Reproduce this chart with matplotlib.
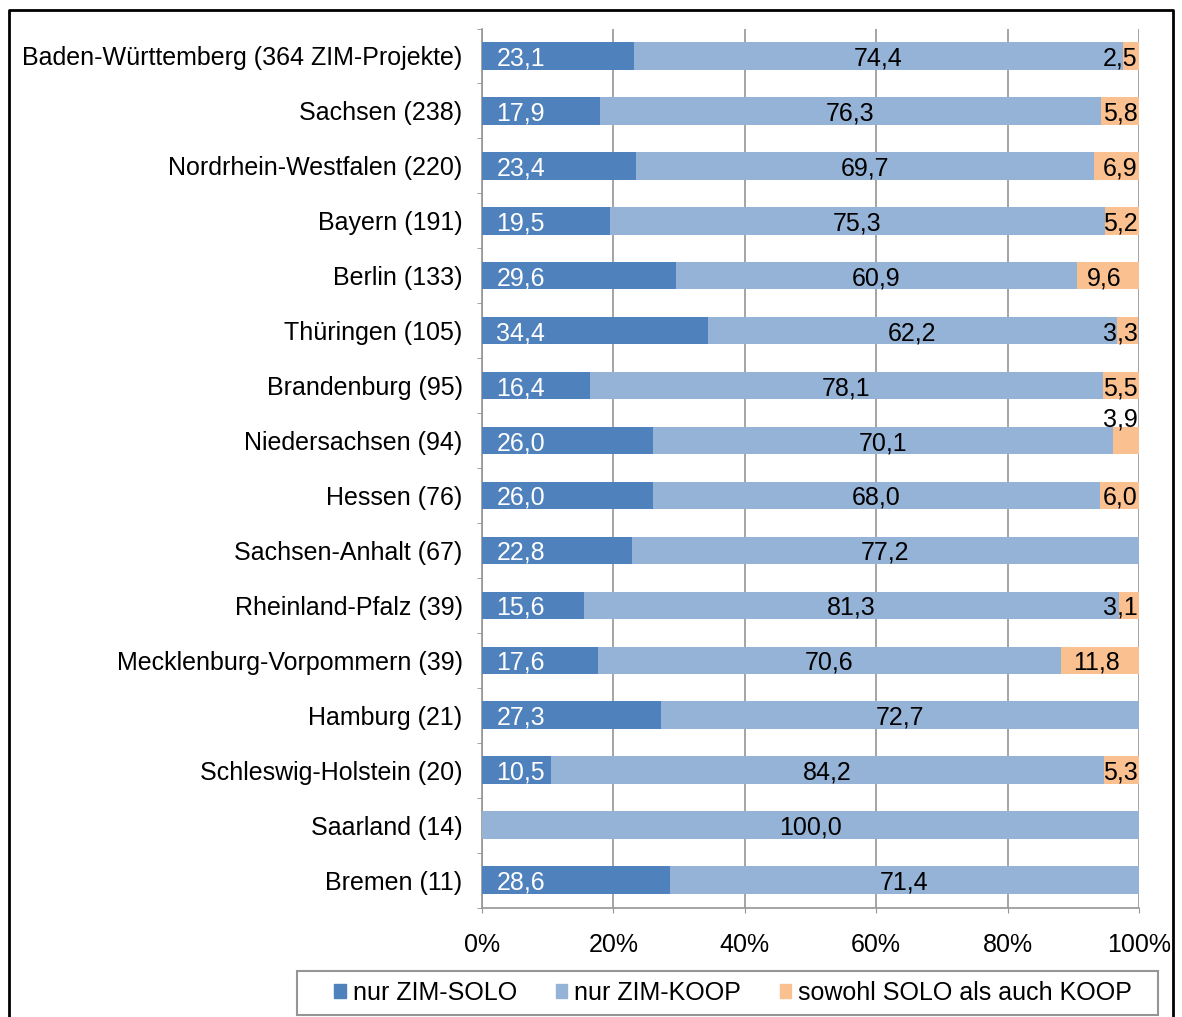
import numpy as np
import matplotlib
matplotlib.use("Agg")
import matplotlib.pyplot as plt
from matplotlib.lines import Line2D
from matplotlib.patches import Patch, Rectangle

plt.rcParams['font.family'] = ['Liberation Sans', 'DejaVu Sans']

laender = ["Baden-Württemberg (364 ZIM-Projekte)", "Sachsen (238)", "Nordrhein-Westfalen (220)",
           "Bayern (191)", "Berlin (133)", "Thüringen (105)", "Brandenburg (95)",
           "Niedersachsen (94)", "Hessen (76)", "Sachsen-Anhalt (67)", "Rheinland-Pfalz (39)",
           "Mecklenburg-Vorpommern (39)", "Hamburg (21)", "Schleswig-Holstein (20)",
           "Saarland (14)", "Bremen (11)"]
solo = [23.1, 17.9, 23.4, 19.5, 29.6, 34.4, 16.4, 26.0, 26.0, 22.8, 15.6, 17.6, 27.3, 10.5, 0.0, 28.6]
koop = [74.4, 76.3, 69.7, 75.3, 60.9, 62.2, 78.1, 70.1, 68.0, 77.2, 81.3, 70.6, 72.7, 84.2, 100.0, 71.4]
beide = [2.5, 5.8, 6.9, 5.2, 9.6, 3.3, 5.5, 3.9, 6.0, 0.0, 3.1, 11.8, 0.0, 5.3, 0.0, 0.0]

c_solo = "#4F81BD"
c_koop = "#95B3D7"
c_beide = "#FAC090"
grid_c = "#959595"
fs = 18

fig = plt.figure(figsize=(11.82, 10.17), dpi=100)
ax = fig.add_axes([482/1182, 1 - 907.5/1017, (1139 - 482)/1182, (907.5 - 28.5)/1017])

y = np.arange(len(laender))
solo_a = np.array(solo)
koop_a = np.array(koop)
beide_a = np.array(beide)
h = 0.5
ax.barh(y, solo_a, height=h, color=c_solo, zorder=3)
ax.barh(y, koop_a, left=solo_a, height=h, color=c_koop, zorder=3)
ax.barh(y, beide_a, left=solo_a + koop_a, height=h, color=c_beide, zorder=3)

def fmt(v):
    return ("%.1f" % v).replace(".", ",")

va = "center_baseline"
for i in range(len(laender)):
    if solo[i] > 0:
        ax.text(2.2, i, fmt(solo[i]), color="white", ha="left", va=va, fontsize=fs, zorder=4)
    if koop[i] > 0:
        ax.text(solo[i] + koop[i] / 2, i, fmt(koop[i]), color="black", ha="center", va=va,
                fontsize=fs, zorder=4)
    if beide[i] > 0:
        if laender[i].startswith("Niedersachsen"):
            ax.text(99.8, i - 0.42, fmt(beide[i]), ha="right", va=va, fontsize=fs, zorder=4)
        elif beide[i] >= 9:
            ax.text(solo[i] + koop[i] + beide[i] / 2 - 0.6, i, fmt(beide[i]), ha="center",
                    va=va, fontsize=fs, zorder=4)
        else:
            ax.text(99.8, i, fmt(beide[i]), ha="right", va=va, fontsize=fs, zorder=4)

ax.set_xlim(0, 100)
ax.set_ylim(len(laender) - 0.5, -0.5)
ax.set_xticks([0, 20, 40, 60, 80, 100])
ax.set_xticklabels(["0%", "20%", "40%", "60%", "80%", "100%"], fontsize=fs)
ax.set_yticks(y)
ax.set_yticklabels(laender, fontsize=fs)
ax.set_yticks(np.arange(len(laender) + 1) - 0.5, minor=True)
ax.tick_params(axis="y", which="major", length=0, pad=14)
ax.tick_params(axis="y", which="minor", length=3.5, color=grid_c, direction="out")
ax.tick_params(axis="x", which="major", length=3.5, color=grid_c, pad=14.5)
ax.xaxis.grid(True, color=grid_c, linewidth=1.2, zorder=0)
for s in ["top", "right"]:
    ax.spines[s].set_visible(False)
for s in ["left", "bottom"]:
    ax.spines[s].set_color(grid_c)
    ax.spines[s].set_linewidth(1.2)

handles = [Patch(color=c_solo, label="nur ZIM-SOLO"),
           Patch(color=c_koop, label="nur ZIM-KOOP"),
           Patch(color=c_beide, label="sowohl SOLO als auch KOOP")]
leg = fig.legend(handles=handles, loc="center", bbox_to_anchor=(733/1182, 1 - 993/1017), ncol=3,
                 fontsize=fs, frameon=False, handlelength=0.45, handleheight=0.45,
                 handletextpad=0.28, columnspacing=1.55, borderpad=0.0)

# legend box
fig.add_artist(Rectangle((297/1182, 1 - 1015/1017), (1158 - 297)/1182, 44/1017,
                         transform=fig.transFigure, fill=False, edgecolor=grid_c, linewidth=1.5))

# outer frame (left, top, right)
fx = [9/1182, 9/1182, 1173/1182, 1173/1182]
fy = [0, 1 - 10/1017, 1 - 10/1017, 0]
fig.add_artist(Line2D(fx, fy, color="black", linewidth=2, transform=fig.transFigure))

fig.savefig("out.png", dpi=100)
